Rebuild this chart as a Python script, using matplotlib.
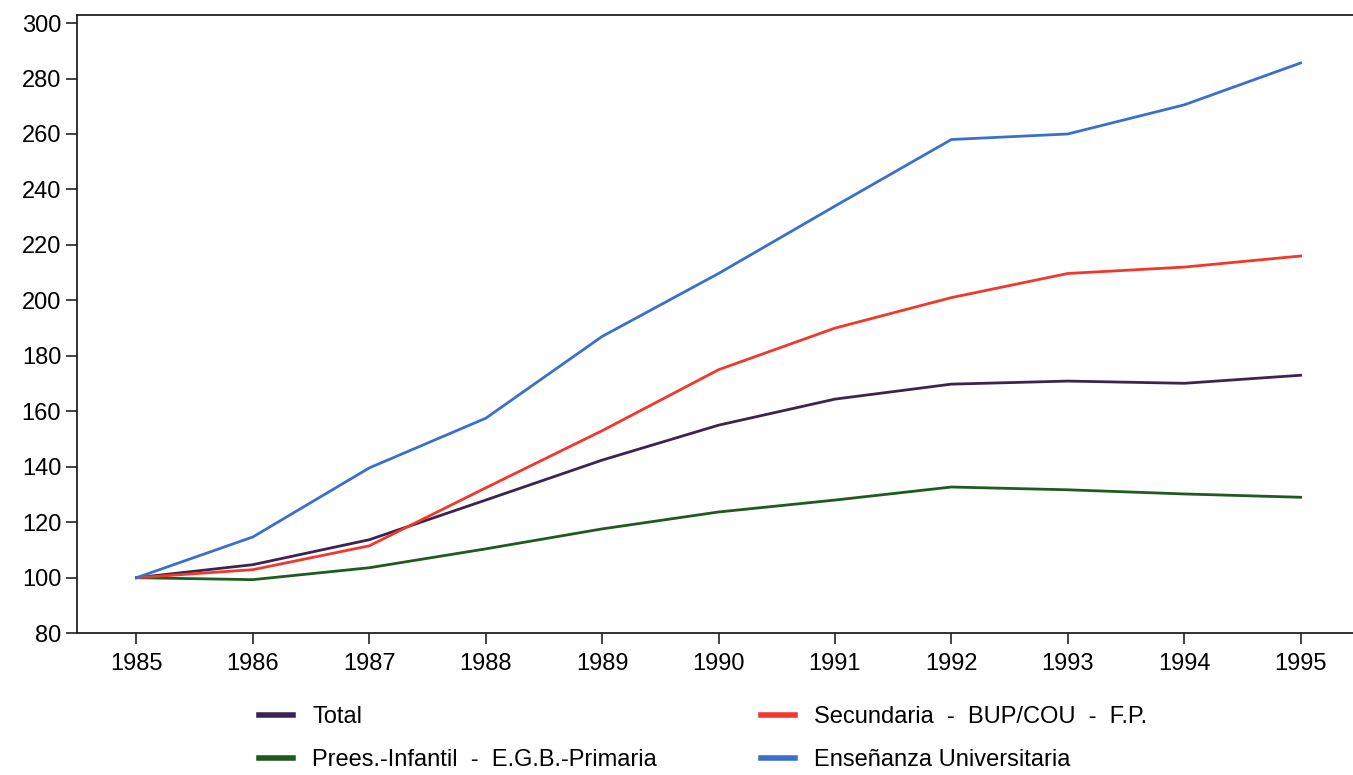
import matplotlib
matplotlib.use("Agg")
import matplotlib.pyplot as plt
from matplotlib.lines import Line2D

years = [1985, 1986, 1987, 1988, 1989, 1990, 1991, 1992, 1993, 1994, 1995]
total = [100, 104.7, 113.7, 128, 142.4, 155, 164.4, 169.8, 170.9, 170.1, 173]
prees = [100, 99.3, 103.6, 110.4, 117.6, 123.7, 128, 132.7, 131.7, 130.2, 129]
secundaria = [100, 102.9, 111.5, 132.4, 153, 175, 190, 201, 209.7, 212, 216]
universitaria = [100, 114.7, 139.6, 157.5, 187, 209.7, 234, 258, 260, 270.5, 285.6]

labels = ["Total", "Prees.-Infantil  -  E.G.B.-Primaria",
          "Secundaria  -  BUP/COU  -  F.P.", "Enseñanza Universitaria"]
yticks = [80, 100, 120, 140, 160, 180, 200, 220, 240, 260, 280, 300]

plt.rcParams["font.family"] = ["Liberation Sans", "DejaVu Sans"]

fig = plt.figure(figsize=(13.53, 7.75), dpi=100)
ax = fig.add_axes([0.057, 0.183, 0.943, 0.798])

c_total = "#3b2450"
c_prees = "#1f5a1f"
c_sec = "#f2382a"
c_uni = "#3a70cc"

lw = 2.0
ax.plot(years, total, color=c_total, lw=lw)
ax.plot(years, prees, color=c_prees, lw=lw)
ax.plot(years, secundaria, color=c_sec, lw=lw)
ax.plot(years, universitaria, color=c_uni, lw=lw)

ax.set_xlim(1984.49, 1995.45)
ax.set_ylim(80, 303)
ax.set_xticks(years)
ax.set_yticks(yticks)
ax.tick_params(axis="both", labelsize=17, length=8, width=1.2, direction="out", color="#222222")
ax.tick_params(axis="x", pad=6.5)
ax.spines["right"].set_visible(False)
for s in ["left", "top", "bottom"]:
    ax.spines[s].set_linewidth(1.3)
    ax.spines[s].set_color("#222222")

handles = [Line2D([], [], color=c, lw=4) for c in [c_total, c_prees, c_sec, c_uni]]
fig.legend(handles, labels, ncol=2, loc="upper left", bbox_to_anchor=(0.1915, 0.089),
           frameon=False, fontsize=17, handlelength=1.45, handletextpad=0.8,
           columnspacing=4.4, labelspacing=0.88, borderaxespad=0, borderpad=0)

fig.savefig("out.png", dpi=100)
